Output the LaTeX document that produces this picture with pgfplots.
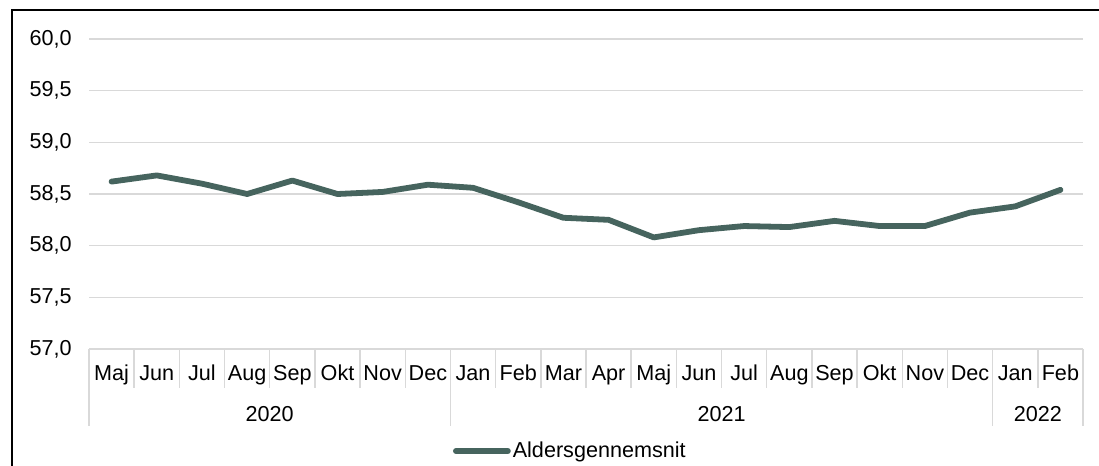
\documentclass[border=0pt]{standalone}
\usepackage{fontspec}
\setmainfont{Liberation Sans}
\usepackage{pgfplots}
\pgfplotsset{compat=1.18}
\definecolor{linecol}{RGB}{70,100,94}
\definecolor{gridgray}{RGB}{217,217,217}
\newcommand{\lblfont}{\fontsize{10.8}{13}\selectfont}
\begin{document}
\begin{tikzpicture}
\useasboundingbox (0pt,0pt) rectangle (549.5pt,-233pt);
\draw[line width=1pt, black] (5.75pt,-240pt) -- (5.75pt,-5pt) -- (560pt,-5pt);
\begin{axis}[
  scale only axis, width=497pt, height=155pt,
  at={(44.5pt,-174.5pt)}, anchor=south west,
  xmin=-0.5, xmax=21.5, ymin=57, ymax=60,
  clip=false,
  axis line style={draw=none},
  ymajorgrids, grid style={draw=gridgray, line width=0.75pt},
  ytick={57,57.5,58,58.5,59,59.5,60},
  ytick style={draw=none},
  yticklabel style={/pgf/number format/fixed, /pgf/number format/fixed zerofill, /pgf/number format/precision=1, /pgf/number format/use comma, /pgf/number format/assume math mode=true},
  every y tick label/.append style={anchor=east, inner sep=0pt, xshift=-8.5pt, font=\lblfont},
  xtick={0,...,21},
  xticklabels={Maj,Jun,Jul,Aug,Sep,Okt,Nov,Dec,Jan,Feb,Mar,Apr,Maj,Jun,Jul,Aug,Sep,Okt,Nov,Dec,Jan,Feb},
  xtick style={draw=none},
  every x tick label/.append style={anchor=base, inner sep=0pt, yshift=-15.75pt, font=\lblfont},
  legend style={at={(axis description cs:0.3662,-0.329)}, anchor=west, draw=none, fill=none, inner sep=0pt, outer sep=0pt,
    nodes={inner sep=1pt}, font=\lblfont},
  legend image code/.code={\draw[#1, line cap=round] (0pt,0pt) -- (26pt,0pt);},
]
\addplot[color=linecol, line width=2.9pt, line cap=round, line join=round] coordinates {
 (0,58.62) (1,58.68) (2,58.60) (3,58.50) (4,58.63) (5,58.50) (6,58.52) (7,58.59)
 (8,58.56) (9,58.42) (10,58.27) (11,58.25) (12,58.08) (13,58.15) (14,58.19) (15,58.18)
 (16,58.24) (17,58.19) (18,58.19) (19,58.32) (20,58.38) (21,58.54)
};
\addlegendentry{Aldersgennemsnit}
\pgfplotsinvokeforeach{0.5,1.5,2.5,3.5,4.5,5.5,6.5,8.5,9.5,10.5,11.5,12.5,13.5,14.5,15.5,16.5,17.5,18.5,20.5}{
  \draw[gridgray, line width=0.75pt] (axis cs:#1,57) -- ++(0pt,-19.5pt);
}
\pgfplotsinvokeforeach{-0.5,7.5,19.5,21.5}{
  \draw[gridgray, line width=0.75pt] (axis cs:#1,57) -- ++(0pt,-38.5pt);
}
\node[anchor=base, inner sep=0pt, yshift=-36pt, font=\lblfont] at (axis cs:3.5,57) {2020};
\node[anchor=base, inner sep=0pt, yshift=-36pt, font=\lblfont] at (axis cs:13.5,57) {2021};
\node[anchor=base, inner sep=0pt, yshift=-36pt, font=\lblfont] at (axis cs:20.5,57) {2022};
\end{axis}
\end{tikzpicture}
\end{document}
